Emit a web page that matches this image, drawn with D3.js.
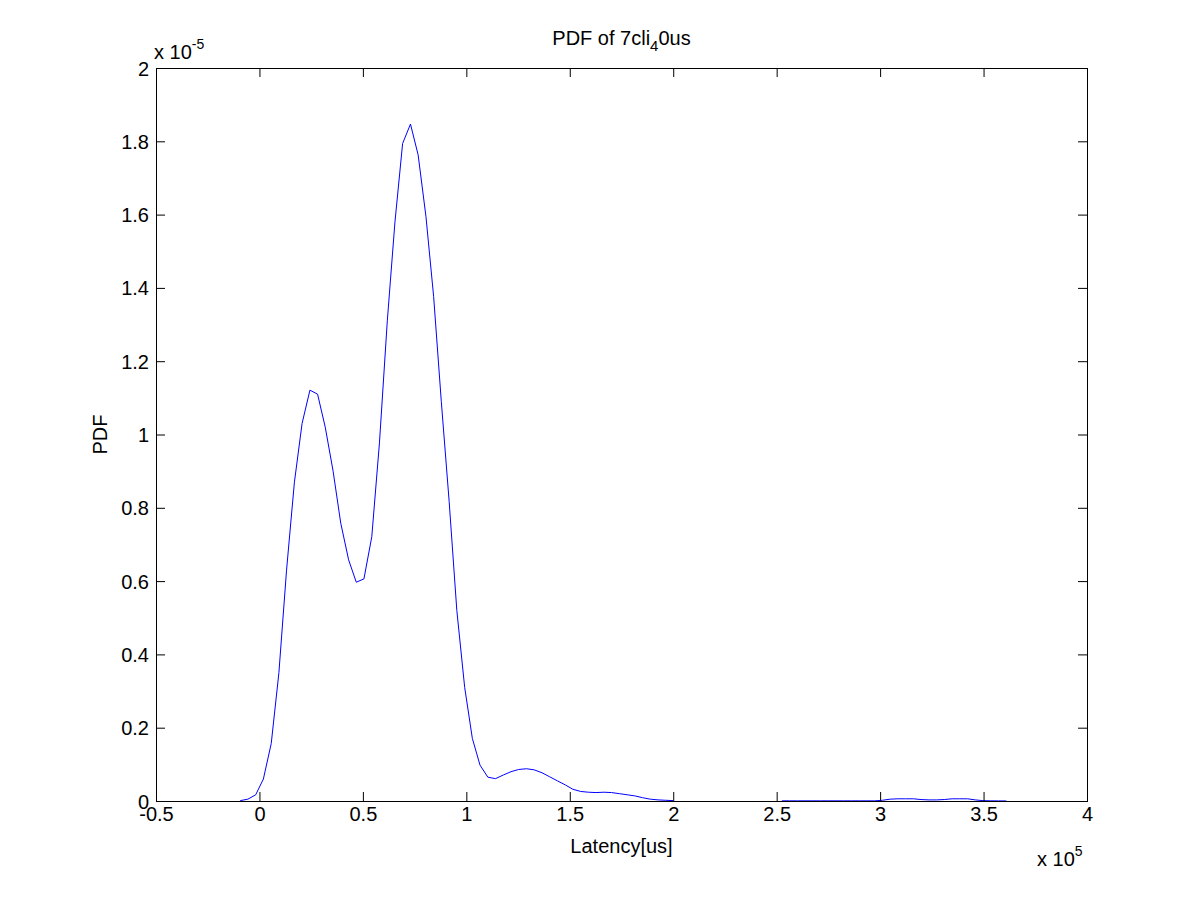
<!DOCTYPE html>
<html>
<head>
<meta charset="utf-8">
<script src="https://cdn.jsdelivr.net/npm/d3@7"></script>
<style>
  html, body { margin: 0; padding: 0; background: #ffffff; }
  svg { display: block; }
  text { font-family: "Liberation Sans", Arial, sans-serif; fill: #000; }
</style>
</head>
<body>
<svg id="chart" width="1200" height="900"></svg>
<script>
// ---- data (x in units of 1e5 us, PDF in units of 1e-5) ----
const latency = [
  -0.093,-0.056,-0.018,0.019,0.057,0.094,0.131,0.169,0.206,0.244,
  0.281,0.318,0.356,0.393,0.431,0.468,0.505,0.543,0.580,0.618,
  0.655,0.692,0.730,0.767,0.805,0.842,0.879,0.917,0.954,0.992,
  1.029,1.066,1.104,1.141,1.179,1.216,1.253,1.291,1.328,1.366,
  1.403,1.440,1.478,1.515,1.553,1.590,1.627,1.665,1.702,1.740,
  1.777,1.814,1.852,1.889,1.927,1.964,2.001,2.039,2.076,2.114,
  2.151,2.188,2.226,2.263,2.301,2.338,2.375,2.413,2.450,2.488,
  2.525,2.562,2.600,2.637,2.675,2.712,2.749,2.787,2.824,2.862,
  2.899,2.936,2.974,3.011,3.049,3.086,3.123,3.161,3.198,3.236,
  3.273,3.310,3.348,3.385,3.423,3.460,3.497,3.535,3.572,3.610
];
const pdf = [
  0.001,0.005,0.017,0.060,0.157,0.350,0.630,0.870,1.030,1.121,
  1.110,1.020,0.900,0.758,0.658,0.597,0.606,0.721,0.977,1.310,
  1.580,1.794,1.847,1.763,1.594,1.376,1.090,0.817,0.520,0.310,
  0.171,0.098,0.065,0.061,0.071,0.080,0.086,0.088,0.085,0.077,
  0.066,0.055,0.044,0.032,0.026,0.024,0.023,0.024,0.023,0.020,
  0.017,0.014,0.009,0.005,0.003,0.002,0.001,null,null,null,
  null,null,null,null,null,null,null,null,null,null,
  0.0005,0.0005,0.0005,0.0005,0.0005,0.0005,0.0005,0.0005,0.0005,0.0005,
  0.0005,0.0005,0.0005,0.002,0.005,0.006,0.006,0.006,0.004,0.003,
  0.003,0.004,0.006,0.006,0.006,0.003,0.001,0.0005,0.0003,0.0002
];
const xTicks = [-0.5,0,0.5,1,1.5,2,2.5,3,3.5,4];
const xTickLabels = ["-0.5","0","0.5","1","1.5","2","2.5","3","3.5","4"];
const yTicks = [0,0.2,0.4,0.6,0.8,1,1.2,1.4,1.6,1.8,2];
const yTickLabels = ["0","0.2","0.4","0.6","0.8","1","1.2","1.4","1.6","1.8","2"];
const xDomain = [-0.5, 4];
const yDomain = [0, 2];

// ---- layout ----
const svg = d3.select("#chart");
const L = 156, R = 1087, T = 68, B = 801;
const fs = 20;

const x = d3.scaleLinear().domain(xDomain).range([L, R]);
const y = d3.scaleLinear().domain(yDomain).range([B, T]);

svg.append("rect").attr("x",0).attr("y",0).attr("width",1200).attr("height",900).attr("fill","#fff");

// curve
const pts = latency.map((v,i) => [v, pdf[i]]);
const line = d3.line()
  .defined(d => d[1] !== null)
  .x(d => x(d[0]))
  .y(d => y(d[1]));
svg.append("path")
  .datum(pts)
  .attr("d", line)
  .attr("fill","none")
  .attr("stroke","#0000ff")
  .attr("stroke-width",1);

// axes (MATLAB style: ticks pointing inward on all sides)
const tk = 9;
function styleAxis(g){
  g.select(".domain").remove();
  g.selectAll(".tick line").attr("stroke","#000").attr("stroke-width",1);
  g.selectAll("text").attr("font-size", fs).attr("font-family",'"Liberation Sans", Arial, sans-serif').attr("fill","#000");
}
const gb = svg.append("g").attr("transform",`translate(0,${B})`)
  .call(d3.axisBottom(x).tickValues(xTicks).tickFormat((d,i)=>xTickLabels[i]).tickSize(-tk));
styleAxis(gb);
gb.selectAll("text").attr("y",6).attr("dy","0.71em");

const gt = svg.append("g").attr("transform",`translate(0,${T})`)
  .call(d3.axisTop(x).tickValues(xTicks).tickFormat("").tickSize(-tk));
styleAxis(gt);

const gl = svg.append("g").attr("transform",`translate(${L},0)`)
  .call(d3.axisLeft(y).tickValues(yTicks).tickFormat((d,i)=>yTickLabels[i]).tickSize(-tk));
styleAxis(gl);
gl.selectAll("text").attr("x",-7).attr("dy","0.35em");

const gr = svg.append("g").attr("transform",`translate(${R},0)`)
  .call(d3.axisRight(y).tickValues(yTicks).tickFormat("").tickSize(-tk));
styleAxis(gr);

// box
svg.append("rect")
  .attr("x", L).attr("y", T).attr("width", R-L).attr("height", B-T)
  .attr("fill","none").attr("stroke","#000").attr("stroke-width",1)
  .attr("shape-rendering","crispEdges");

// title with TeX subscript
const title = svg.append("text")
  .attr("x", (L+R)/2).attr("y", 45)
  .attr("text-anchor","middle").attr("font-size", fs);
title.append("tspan").text("PDF of 7cli");
title.append("tspan").attr("font-size", fs*0.75).attr("dy", 6).text("4");
title.append("tspan").attr("dy", -6).text("0us");

// axis labels
svg.append("text")
  .attr("x", (L+R)/2).attr("y", 853)
  .attr("text-anchor","middle").attr("font-size", fs)
  .text("Latency[us]");
svg.append("text")
  .attr("transform", `translate(107,${(T+B)/2}) rotate(-90)`)
  .attr("text-anchor","middle").attr("font-size", fs)
  .text("PDF");

// exponent labels
const ey = svg.append("text").attr("x", 154).attr("y", 59).attr("font-size", fs);
ey.append("tspan").text("x 10");
ey.append("tspan").attr("font-size", fs*0.7).attr("dy", -10).text("-5");

const ex = svg.append("text").attr("x", 1037).attr("y", 866).attr("font-size", fs);
ex.append("tspan").text("x 10");
ex.append("tspan").attr("font-size", fs*0.7).attr("dy", -10).text("5");
</script>
</body>
</html>
